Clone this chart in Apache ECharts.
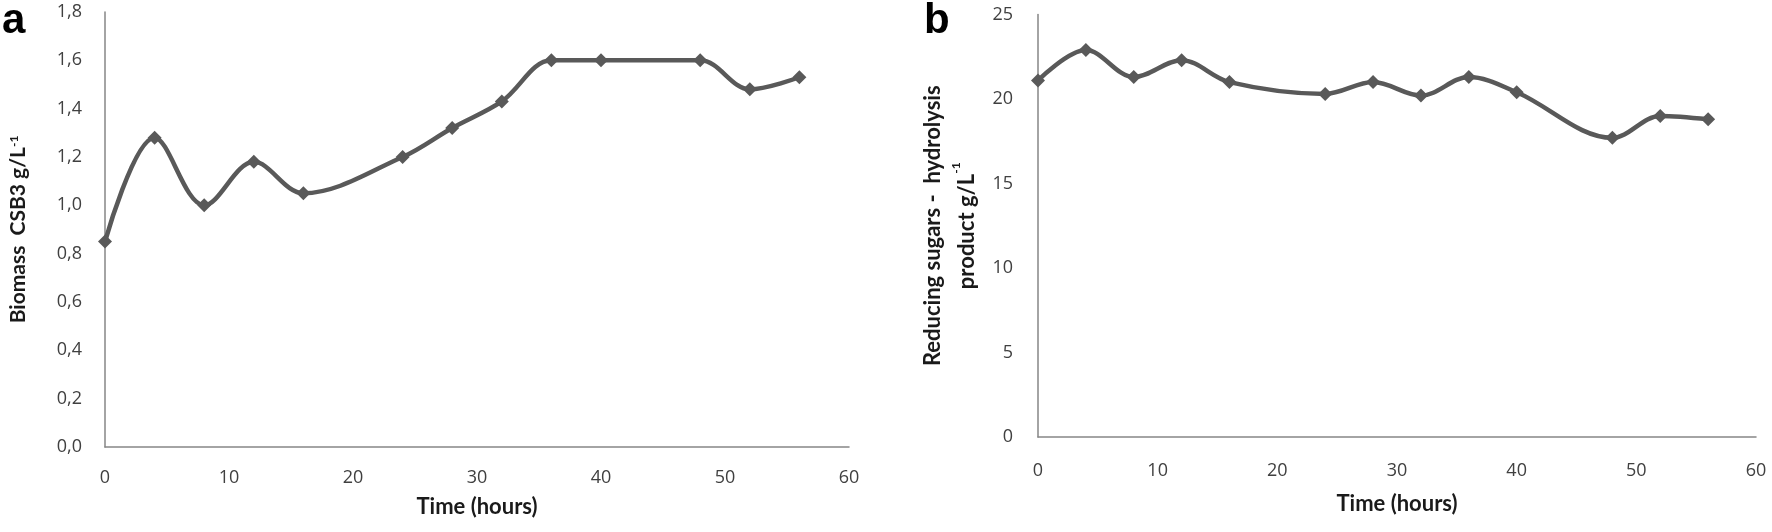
<!DOCTYPE html>
<html>
<head>
<meta charset="utf-8">
<script src="https://cdn.jsdelivr.net/npm/echarts@6/dist/echarts.min.js"></script>
<style>
html,body{margin:0;padding:0;background:#fff;}
#c{width:1772px;height:532px;}
</style>
</head>
<body>
<div id="c"></div>
<script>
const timeHours = [0, 4, 8, 12, 16, 24, 28, 32, 36, 40, 48, 52, 56];
const biomass = [0.85, 1.28, 1.00, 1.18, 1.05, 1.20, 1.32, 1.43, 1.60, 1.60, 1.60, 1.48, 1.53];
const reducingSugars = [21.1, 22.9, 21.3, 22.3, 21.0, 20.3, 21.0, 20.2, 21.3, 20.4, 17.7, 19.0, 18.8];
const xTicks = [0, 10, 20, 30, 40, 50, 60];
const yTicksA = [0, 0.2, 0.4, 0.6, 0.8, 1.0, 1.2, 1.4, 1.6, 1.8];
const yTicksB = [0, 5, 10, 15, 20, 25];

const lineColor = '#595959';
const axisColor = '#868686';
const labelColor = '#404040';
const tickFont = 'Open Sans';
const titleFont = 'Lato';

function pairs(xs, ys){ return xs.map((x,i)=>[x, ys[i]]); }

const chart = echarts.init(document.getElementById('c'), null, {renderer:'canvas'});

function xAxis(gridIndex, gap, margin){
  return {
    type:'value', gridIndex, min:xTicks[0], max:xTicks[xTicks.length-1], interval:10,
    axisLine:{show:true, onZero:false, lineStyle:{color:axisColor, width:1.5}},
    axisTick:{show:false}, splitLine:{show:false},
    axisLabel:{color:labelColor, fontFamily:tickFont, fontSize:18, margin},
    name:'Time (hours)', nameLocation:'middle', nameGap:gap,
    nameTextStyle:{fontFamily:titleFont, fontWeight:'bold', fontSize:22, color:'#1a1a1a'}
  };
}

const option = {
  animation:false,
  backgroundColor:'#fff',
  grid:[
    {left:105, top:12, width:744, height:435},
    {left:1038, top:14.5, width:718, height:422.5}
  ],
  xAxis:[ xAxis(0, 49, 22), xAxis(1, 56, 25) ],
  yAxis:[
    {
      type:'value', gridIndex:0, min:yTicksA[0], max:yTicksA[yTicksA.length-1], interval:0.2,
      axisLine:{show:true, lineStyle:{color:axisColor, width:1.5}},
      axisTick:{show:false}, splitLine:{show:false},
      axisLabel:{color:labelColor, fontFamily:tickFont, fontSize:18, margin:23,
        formatter:v=>v.toFixed(1).replace('.', ',')},
      name:'{b|Biomass  CSB3 g/L}{s|-1}', nameLocation:'middle', nameGap:76, nameRotate:90,
      nameTextStyle:{
        rich:{
          b:{fontFamily:titleFont, fontWeight:'bold', fontSize:21, color:'#1a1a1a'},
          s:{fontFamily:titleFont, fontWeight:'bold', fontSize:12, color:'#1a1a1a', verticalAlign:'top', padding:[0,0,9,0]}
        }
      }
    },
    {
      type:'value', gridIndex:1, min:yTicksB[0], max:yTicksB[yTicksB.length-1], interval:5,
      axisLine:{show:true, lineStyle:{color:axisColor, width:1.5}},
      axisTick:{show:false}, splitLine:{show:false},
      axisLabel:{color:labelColor, fontFamily:tickFont, fontSize:18, margin:25},
      name:'{b|Reducing sugars -  hydrolysis}\n{b|product g/L}{s|-1}', nameLocation:'middle', nameGap:54, nameRotate:90,
      nameTextStyle:{
        lineHeight:34,
        rich:{
          b:{fontFamily:titleFont, fontWeight:'bold', fontSize:22, color:'#1a1a1a', lineHeight:34},
          s:{fontFamily:titleFont, fontWeight:'bold', fontSize:12, color:'#1a1a1a', verticalAlign:'top', lineHeight:34, padding:[0,0,9,0]}
        }
      }
    }
  ],
  graphic:[
    {type:'text', left:2, top:0, style:{text:'a', fontFamily:'Liberation Sans', fontWeight:'bold', fontSize:42, fill:'#000'}},
    {type:'text', left:924, top:0, style:{text:'b', fontFamily:'Liberation Sans', fontWeight:'bold', fontSize:42, fill:'#000'}}
  ],
  series:[
    {
      type:'line', xAxisIndex:0, yAxisIndex:0, data:pairs(timeHours, biomass),
      smooth:0.35, symbol:'diamond', symbolSize:14,
      lineStyle:{color:lineColor, width:4.5}, itemStyle:{color:lineColor}
    },
    {
      type:'line', xAxisIndex:1, yAxisIndex:1, data:pairs(timeHours, reducingSugars),
      smooth:0.35, symbol:'diamond', symbolSize:14,
      lineStyle:{color:lineColor, width:4.5}, itemStyle:{color:lineColor}
    }
  ]
};
chart.setOption(option);
</script>
</body>
</html>
